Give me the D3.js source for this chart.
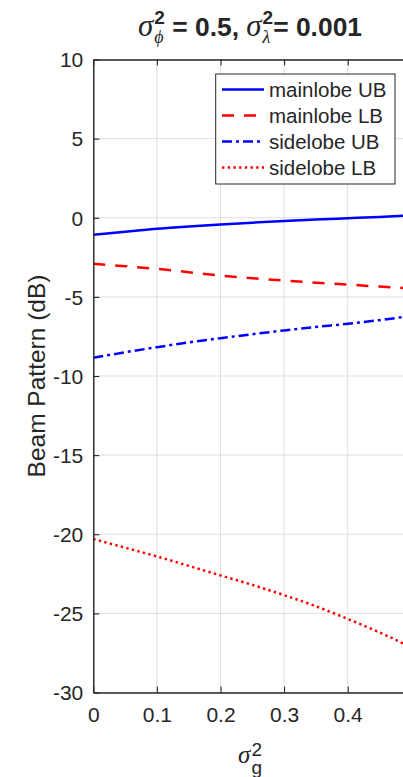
<!DOCTYPE html>
<html>
<head>
<meta charset="utf-8">
<script src="https://cdn.jsdelivr.net/npm/d3@7/dist/d3.min.js"></script>
<style>
  html, body { margin: 0; padding: 0; background: #fff; }
  svg { display: block; }
  text { font-family: "Liberation Sans", Arial, Helvetica, sans-serif; fill: #262626; }
</style>
</head>
<body>
<svg id="chart" width="403" height="777"></svg>
<script>
// ---- data ----
const sigmaG2 = [0, 0.05, 0.1, 0.15, 0.2, 0.25, 0.3, 0.35, 0.4, 0.45, 0.5];
const mainlobeUB = [-1.08, -0.88, -0.70, -0.56, -0.43, -0.31, -0.20, -0.11, -0.03, 0.05, 0.15];
const mainlobeLB = [-2.91, -3.06, -3.23, -3.44, -3.65, -3.82, -3.97, -4.10, -4.22, -4.35, -4.46];
const sidelobeUB = [-8.85, -8.50, -8.18, -7.88, -7.61, -7.36, -7.12, -6.90, -6.70, -6.47, -6.20];
const sidelobeLB = [-20.3, -20.85, -21.4, -22.0, -22.6, -23.2, -23.85, -24.55, -25.35, -26.2, -27.15];
const seriesNames = ["mainlobe UB", "mainlobe LB", "sidelobe UB", "sidelobe LB"];
const xTicks = [0, 0.1, 0.2, 0.3, 0.4];
const yTicks = [-30, -25, -20, -15, -10, -5, 0, 5, 10];
const xDomain = [0, 0.5];
const yDomain = [-30, 10];

// ---- layout / styles ----
const svg = d3.select("#chart");
const m = { left: 93.3, top: 59.5, right: 411.3, bottom: 692.5 };
const x = d3.scaleLinear().domain(xDomain).range([m.left, m.right]);
const y = d3.scaleLinear().domain(yDomain).range([m.bottom, m.top]);
const axisColor = "#262626";
const gridColor = "#dfdfdf";
const sans = '"Liberation Sans", Arial, Helvetica, sans-serif';
const serif = '"Liberation Serif", "Times New Roman", serif';

const styles = [
  { color: "#0000ff", dash: null },
  { color: "#ff0000", dash: "12,10" },
  { color: "#0000ff", dash: "10,4,3,4" },
  { color: "#ff0000", dash: "2.4,3.3" }
];
const seriesData = [mainlobeUB, mainlobeLB, sidelobeUB, sidelobeLB];

// clip
svg.append("defs").append("clipPath").attr("id", "clip")
  .append("rect").attr("x", m.left).attr("y", m.top)
  .attr("width", m.right - m.left).attr("height", m.bottom - m.top);

// grid
const grid = svg.append("g");
grid.selectAll(".gx").data(xTicks.concat([0.5])).enter().append("line")
  .attr("x1", d => x(d)).attr("x2", d => x(d))
  .attr("y1", m.top).attr("y2", m.bottom)
  .attr("stroke", gridColor).attr("stroke-width", 1);
grid.selectAll(".gy").data(yTicks).enter().append("line")
  .attr("y1", d => y(d)).attr("y2", d => y(d))
  .attr("x1", m.left).attr("x2", m.right)
  .attr("stroke", gridColor).attr("stroke-width", 1);

// lines
const line = d3.line().x((d, i) => x(sigmaG2[i])).y(d => y(d)).curve(d3.curveMonotoneX);
const lines = svg.append("g").attr("clip-path", "url(#clip)");
seriesData.forEach((s, i) => {
  lines.append("path").datum(s)
    .attr("d", line)
    .attr("fill", "none")
    .attr("stroke", styles[i].color)
    .attr("stroke-width", 2.5)
    .attr("stroke-dasharray", styles[i].dash);
});

// axes (MATLAB-like: inward ticks, box)
const tickLen = 6;
const fmt = d => String(d);
const axisG = svg.append("g");
const xAxis = d3.axisBottom(x).tickValues(xTicks).tickFormat(fmt).tickSizeInner(-tickLen).tickSizeOuter(0).tickPadding(15);
const gx = axisG.append("g").attr("transform", `translate(0,${m.bottom})`).call(xAxis);
const xAxisTop = d3.axisTop(x).tickValues(xTicks).tickFormat("").tickSizeInner(-tickLen).tickSizeOuter(0);
const gxt = axisG.append("g").attr("transform", `translate(0,${m.top})`).call(xAxisTop);
const yAxis = d3.axisLeft(y).tickValues(yTicks).tickFormat(fmt).tickSizeInner(-tickLen).tickSizeOuter(0).tickPadding(10);
const gy = axisG.append("g").attr("transform", `translate(${m.left},0)`).call(yAxis);
const yAxisRight = d3.axisRight(y).tickValues(yTicks).tickFormat("").tickSizeInner(-tickLen).tickSizeOuter(0);
const gyr = axisG.append("g").attr("transform", `translate(${m.right},0)`).call(yAxisRight);

[gx, gxt, gy, gyr].forEach(g => {
  g.select(".domain").attr("stroke", axisColor).attr("stroke-width", 1.4);
  g.selectAll(".tick line").attr("stroke", axisColor).attr("stroke-width", 1.1);
  g.selectAll(".tick text").attr("fill", axisColor)
    .style("font-family", sans).style("font-size", "21px");
});
gx.selectAll(".tick text").attr("dy", "0.71em");
gy.selectAll(".tick text").attr("dy", "0.35em");

// rich text helper
function richText(parent, pieces, cx, baseY, base) {
  const g = parent.append("g");
  let cur = 0;
  pieces.forEach(p => {
    if (p.t !== undefined) {
      const t = g.append("text").attr("x", cur).attr("y", 0)
        .style("font-size", (p.size || base.size) + "px")
        .style("font-weight", p.weight || base.weight)
        .style("font-style", p.style || "normal")
        .style("font-family", p.family || base.family)
        .style("white-space", "pre")
        .text(p.t);
      cur += t.node().getComputedTextLength() + (p.after || 0);
    } else {
      let w = 0;
      if (p.sup) {
        const t = g.append("text").attr("x", cur + 1).attr("y", p.supDy)
          .style("font-size", p.supSize + "px").style("font-weight", p.supWeight || base.weight)
          .style("font-family", base.family).text(p.sup);
        w = Math.max(w, t.node().getComputedTextLength());
      }
      if (p.sub) {
        const t = g.append("text").attr("x", cur + 1).attr("y", p.subDy)
          .style("font-size", p.subSize + "px").style("font-weight", p.subWeight || base.weight)
          .style("font-style", p.subStyle || "normal")
          .style("font-family", p.subFamily || base.family).text(p.sub);
        w = Math.max(w, t.node().getComputedTextLength());
      }
      cur += w + 1 + (p.after || 0);
    }
  });
  g.attr("transform", `translate(${cx - cur / 2},${baseY})`);
  return g;
}

// title
richText(svg, [
  { t: "σ", style: "italic", family: serif, size: 31, weight: "normal" },
  { sup: "2", supDy: -12, supSize: 19, supWeight: "bold", sub: "ϕ", subDy: 7, subSize: 18, subStyle: "italic", subFamily: serif, subWeight: "normal" },
  { t: " = 0.5, " },
  { t: "σ", style: "italic", family: serif, size: 31, weight: "normal" },
  { sup: "2", supDy: -12, supSize: 19, supWeight: "bold", sub: "λ", subDy: 7, subSize: 18, subStyle: "italic", subFamily: serif, subWeight: "normal" },
  { t: "= 0.001" }
], 250, 36, { size: 26.4, weight: "bold", family: sans });

// x label
richText(svg, [
  { t: "σ", style: "italic", family: serif, size: 25 },
  { sup: "2", supDy: -7, supSize: 19, sub: "g", subDy: 11, subSize: 19 }
], 250, 763, { size: 21, weight: "normal", family: sans });

// y label
svg.append("text")
  .attr("transform", `translate(45,${(m.top + m.bottom) / 2}) rotate(-90)`)
  .attr("text-anchor", "middle")
  .style("font-size", "24.5px")
  .attr("fill", axisColor)
  .text("Beam Pattern (dB)");

// legend
const lg = svg.append("g");
const lx = 215.7, ly = 74, lw = 179.3, lh = 110;
lg.append("rect").attr("x", lx).attr("y", ly).attr("width", lw).attr("height", lh)
  .attr("fill", "#fff").attr("stroke", axisColor).attr("stroke-width", 1);
const rowY = d3.scalePoint().domain(seriesNames).range([89.5, 167.5]);
seriesNames.forEach((name, i) => {
  const yy = rowY(name);
  lg.append("line").attr("x1", 222).attr("x2", 264).attr("y1", yy).attr("y2", yy)
    .attr("stroke", styles[i].color).attr("stroke-width", 2.5)
    .attr("stroke-dasharray", styles[i].dash);
  lg.append("text").attr("x", 269).attr("y", yy).attr("dy", "0.35em")
    .style("font-size", "20.5px").attr("fill", "#262626").text(name);
});
</script>
</body>
</html>
